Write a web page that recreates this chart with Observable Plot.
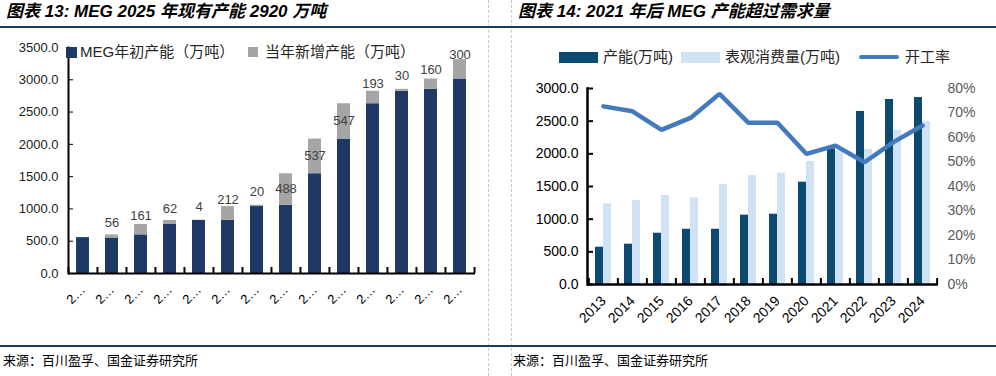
<!DOCTYPE html>
<html><head><meta charset="utf-8">
<script src="https://cdn.jsdelivr.net/npm/d3@7"></script>
<script src="https://cdn.jsdelivr.net/npm/@observablehq/plot@0.6"></script>
<style>
html,body{margin:0;padding:0;}
body{width:996px;height:376px;position:relative;overflow:hidden;background:#fff;font-family:"Liberation Sans","Noto Sans CJK SC",sans-serif;}
.abs{position:absolute;}
.title{font-weight:bold;font-style:italic;font-size:17px;white-space:nowrap;color:#000;line-height:20px;}
.hline{position:absolute;left:0;width:996px;height:2px;background:#1b3a5c;}
.vline{position:absolute;top:0;height:376px;width:0;border-left:1px dashed #c8c8c8;}
.foot{font-size:13px;white-space:nowrap;color:#000;line-height:16px;}
.leg{font-size:15px;white-space:nowrap;color:#262626;line-height:18px;}
.sw{position:absolute;}
</style></head><body>
<div class="vline" style="left:488px"></div>
<div class="vline" style="left:511px"></div>
<div class="abs title" style="left:6px;top:2px">图表 13: MEG 2025 年现有产能 2920 万吨</div>
<div class="abs title" style="left:518px;top:2px">图表 14: 2021 年后 MEG 产能超过需求量</div>
<div class="hline" style="top:26px"></div>
<div class="hline" style="top:345px"></div>
<div class="abs foot" style="left:3px;top:353px">来源：百川盈孚、国金证券研究所</div>
<div class="abs foot" style="left:513px;top:353px">来源：百川盈孚、国金证券研究所</div>
<div id="left" class="abs" style="left:0;top:30px"></div>
<div id="right" class="abs" style="left:498px;top:30px"></div>
<!-- legends -->
<div class="sw" style="left:66px;top:47px;width:11px;height:11px;background:#1f3864"></div>
<div class="abs leg" style="left:80px;top:43px">MEG年初产能（万吨）</div>
<div class="sw" style="left:248px;top:47px;width:10px;height:10px;background:#a5a5a5"></div>
<div class="abs leg" style="left:265px;top:43px">当年新增产能（万吨）</div>
<div class="sw" style="left:559px;top:52px;width:39px;height:11px;background:#0d4a70"></div>
<div class="abs leg" style="left:603px;top:48px">产能(万吨)</div>
<div class="sw" style="left:681px;top:52px;width:39px;height:11px;background:#d0e3f4"></div>
<div class="abs leg" style="left:725px;top:48px">表观消费量(万吨)</div>
<div class="sw" style="left:859px;top:55px;width:40px;height:4px;border-radius:2px;background:#4379bd"></div>
<div class="abs leg" style="left:905px;top:48px">开工率</div>
<script>
// ---- Chart 13 data ----
const yearsL = [2012,2013,2014,2015,2016,2017,2018,2019,2020,2021,2022,2023,2024,2025];
const baseCap = [553,542,598,759,821,825,1037,1057,1545,2082,2629,2822,2852,3012];
const newCap  = [0,56,161,62,4,212,20,488,537,547,193,30,160,300];
const yTicksL = [0,500,1000,1500,2000,2500,3000,3500];
// ---- Chart 14 data ----
const yearsR = [2013,2014,2015,2016,2017,2018,2019,2020,2021,2022,2023,2024];
const capacity    = [571,617,785,846,846,1061,1076,1566,2077,2648,2832,2862];
const consumption = [1235,1286,1362,1327,1531,1668,1704,1883,2045,2066,2357,2495];
const utilization = [0.727,0.707,0.631,0.680,0.778,0.660,0.660,0.533,0.567,0.499,0.581,0.649];
const yTicksR = [0,500,1000,1500,2000,2500,3000];
const rateTicks = [0,0.1,0.2,0.3,0.4,0.5,0.6,0.7,0.8];

const font = '"Liberation Sans","Noto Sans CJK SC",sans-serif';

// ---------- Left chart ----------
{
  const W = 488, H = 310, ml = 68, mr = 13;
  const step = (W - ml - mr) / yearsL.length;
  const data = yearsL.map((y, i) => ({year: String(y), base: baseCap[i], inc: newCap[i], top: baseCap[i] + newCap[i]}));
  const domain = yearsL.map(String);
  const chart = Plot.plot({
    width: W, height: H, marginLeft: ml, marginRight: mr, marginTop: 17, marginBottom: 67,
    style: {fontFamily: font, fontSize: "13px", color: "#000", background: "transparent"},
    x: {type: "band", domain, paddingInner: 0.55, paddingOuter: 0.275},
    y: {domain: [0, 3500]},
    marks: [
      Plot.barY(data, {x: "year", y1: 0, y2: "base", fill: "#1f3864"}),
      Plot.barY(data.slice(0, 1), {x: "year", y1: 0, y2: "base", fill: "none", stroke: "#0e4a6e", strokeWidth: 1.5, inset: 0.75}),
      Plot.barY(data.filter(d => d.inc > 0), {x: "year", y1: "base", y2: "top", fill: "#a5a5a5"}),
      Plot.text(data.filter(d => d.inc > 0 && d.inc < 400), {x: "year", y: d => d.base + d.inc / 2, text: d => String(d.inc), dy: -14, fill: "#404040", fontSize: 13}),
      Plot.text(data.filter(d => d.inc >= 400), {x: "year", y: d => d.base + d.inc / 2, text: d => String(d.inc), dy: -1, fill: "#404040", fontSize: 13}),
      Plot.ruleY([0], {stroke: "#000", strokeWidth: 2}),
      Plot.frame({anchor: "left", stroke: "#000", strokeWidth: 2}),
      Plot.axisY({ticks: yTicksL, tickFormat: d => d.toFixed(1), tickSize: -5, tickPadding: 15, label: null, fill: "#1a1a1a"}),
      Plot.axisX({tickSize: 0, tickRotate: -45, tickPadding: 14, tickFormat: () => "2…", label: null, fontSize: 13}),
      Plot.axisX({ticks: domain, tickSize: -6, text: null, label: null, dx: -step / 2, strokeWidth: 2}),
      Plot.axisX({ticks: domain.slice(-1), tickSize: -6, text: null, label: null, dx: step / 2, strokeWidth: 2})
    ]
  });
  document.getElementById("left").appendChild(chart);
}

// ---------- Right chart ----------
{
  const W = 498, H = 320, ml = 89, mr = 58;
  const step = (W - ml - mr) / yearsR.length;
  const k = 3000 / 0.8; // maps utilisation onto the capacity axis (80% ↔ 3000)
  const data = yearsR.map((y, i) => ({year: String(y), cap: capacity[i], cons: consumption[i], rate: utilization[i]}));
  const domain = yearsR.map(String);
  const chart = Plot.plot({
    width: W, height: H, marginLeft: ml, marginRight: mr, marginTop: 58, marginBottom: 66,
    style: {fontFamily: font, fontSize: "14px", color: "#000", background: "transparent"},
    x: {type: "band", domain, paddingInner: 0.453, paddingOuter: 0.2265},
    y: {domain: [0, 3000]},
    marks: [
      Plot.barY(data, {x: "year", y: "cap", fill: "#0d4a70", insetRight: 8}),
      Plot.barY(data, {x: "year", y: "cons", fill: "#d0e3f4", insetLeft: 8}),
      Plot.line(data, {x: "year", y: d => d.rate * k, stroke: "#4379bd", strokeWidth: 4.5, strokeLinejoin: "miter"}),
      Plot.ruleY([0], {stroke: "#000", strokeWidth: 2.5}),
      Plot.frame({anchor: "left", stroke: "#000", strokeWidth: 2.5}),
      Plot.axisY({anchor: "left", ticks: yTicksR, tickFormat: d => d.toFixed(1), tickSize: -6, tickPadding: 15, label: null, strokeWidth: 2}),
      Plot.axisY({anchor: "right", ticks: rateTicks.map(r => r * k), tickFormat: v => Math.round(v / k * 100) + "%", tickSize: 0, tickPadding: 9, label: null, fill: "#595959"}),
      Plot.axisX({tickSize: 0, tickRotate: -45, tickPadding: 14, label: null, fontSize: 14}),
      Plot.axisX({ticks: domain, tickSize: -6, text: null, label: null, dx: -step / 2, strokeWidth: 2}),
      Plot.axisX({ticks: domain.slice(-1), tickSize: -6, text: null, label: null, dx: step / 2, strokeWidth: 2})
    ]
  });
  document.getElementById("right").appendChild(chart);
}
</script>
</body></html>
